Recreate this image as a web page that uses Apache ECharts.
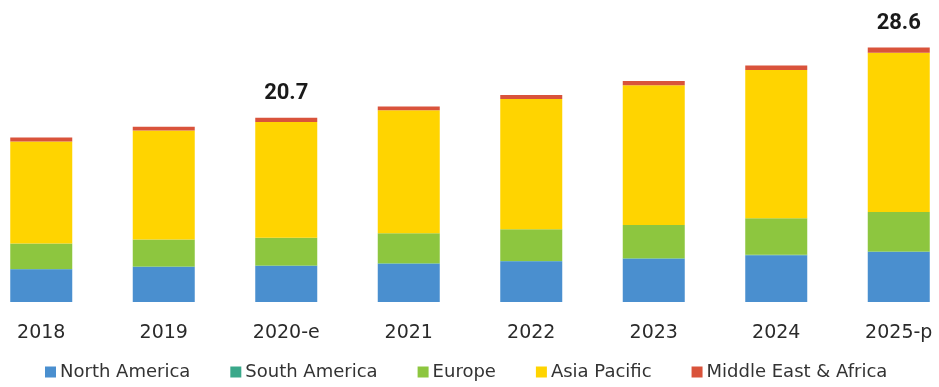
<!DOCTYPE html>
<html>
<head>
<meta charset="utf-8">
<script src="https://cdn.jsdelivr.net/npm/echarts@6/dist/echarts.min.js"></script>
<style>
  html, body { margin: 0; padding: 0; background: #ffffff; overflow: hidden; width: 939px; height: 387px; position: relative; }
  #chart { width: 980px; height: 387px; position: absolute; left: -20px; top: 0; }
</style>
</head>
<body>
<div id="chart"></div>
<script>
const categories = ['2018', '2019', '2020-e', '2021', '2022', '2023', '2024', '2025-p'];
const northAmerica = [3.67, 3.93, 4.04, 4.30, 4.57, 4.87, 5.25, 5.62];
const southAmerica = [0.05, 0.05, 0.05, 0.05, 0.05, 0.05, 0.05, 0.05];
const europe = [2.84, 3.03, 3.13, 3.37, 3.56, 3.74, 4.12, 4.44];
const asiaPacific = [11.46, 12.25, 13.0, 13.82, 14.64, 15.70, 16.66, 17.89];
const middleEastAfrica = [0.45, 0.42, 0.48, 0.42, 0.45, 0.48, 0.48, 0.60];
const totalLabels = ['', '', '20.7', '', '', '', '', '28.6'];

const chart = echarts.init(document.getElementById('chart'));

const barW = 62;
function mk(name, data, color) {
  return { name: name, type: 'bar', stack: 'total', barWidth: barW, data: data,
           itemStyle: { color: color }, emphasis: { disabled: true } };
}

const topSeries = mk('Middle East & Africa', middleEastAfrica.map((v, i) => ({
  value: v,
  label: { show: totalLabels[i] !== '' }
})), '#d9533b');
topSeries.label = {
  position: 'top', distance: 13,
  formatter: p => totalLabels[p.dataIndex],
  fontFamily: 'Roboto', fontWeight: 'bold', fontSize: 22, color: '#1a1a1a'
};

chart.setOption({
  animation: false,
  grid: { left: 0, right: 0, top: 35, bottom: 85 },
  xAxis: {
    type: 'category', data: categories,
    axisLine: { show: false }, axisTick: { show: false },
    axisLabel: { margin: 22, fontFamily: 'DejaVu Sans', fontSize: 19, color: '#2a2a2a' }
  },
  yAxis: { type: 'value', min: 0, max: 30, show: false, splitLine: { show: false } },
  legend: {
    left: 60, top: 358,
    itemWidth: 11, itemHeight: 11, itemGap: 40,
    icon: 'rect',
    textStyle: { fontFamily: 'DejaVu Sans', fontSize: 18, color: '#333333', padding: [0, 0, 0, -1] },
    data: ['North America', 'South America', 'Europe', 'Asia Pacific', 'Middle East & Africa']
  },
  series: [
    mk('North America', northAmerica, '#4a8fcf'),
    mk('South America', southAmerica, '#3aa88a'),
    mk('Europe', europe, '#8dc63f'),
    mk('Asia Pacific', asiaPacific, '#ffd400'),
    topSeries
  ]
});
</script>
</body>
</html>
